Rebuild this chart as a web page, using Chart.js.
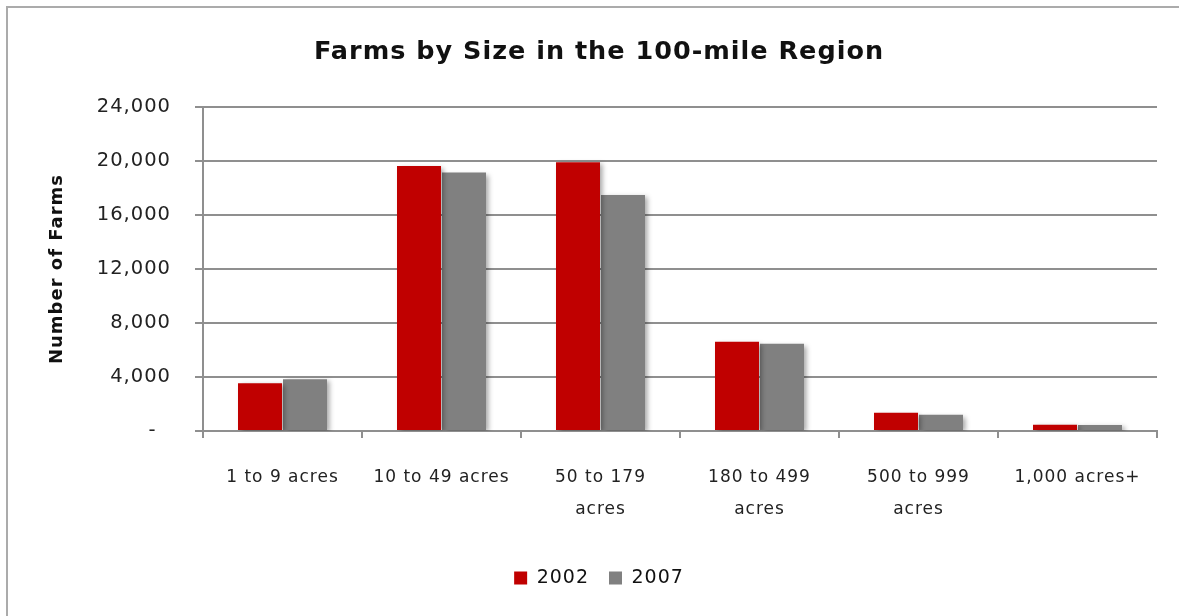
<!DOCTYPE html>
<html>
<head>
<meta charset="utf-8">
<script src="https://cdn.jsdelivr.net/npm/chart.js@4/dist/chart.umd.min.js"></script>
<style>
  html, body { margin: 0; padding: 0; background: #fff; overflow: hidden; }
  #clip {
    position: absolute; left: 0; top: 0;
    width: 1179px; height: 616px; overflow: hidden;
  }
  #frame {
    position: absolute; left: 6px; top: 6px;
    width: 1250px; height: 700px;
    border-top: 2px solid #ababab;
    border-left: 2px solid #ababab;
  }
  #wrap { position: absolute; left: 0; top: 0; width: 1179px; height: 616px; }
</style>
</head>
<body>
<div id="clip">
  <div id="frame"></div>
  <div id="wrap"><canvas id="farmChart"></canvas></div>
</div>
<script>
/* ----------------------------- */
/* DATA                          */
/* ----------------------------- */
const sizeLabels = [
  "1 to 9 acres",
  "10 to 49 acres",
  ["50 to 179", "acres"],
  ["180 to 499", "acres"],
  ["500 to 999", "acres"],
  "1,000 acres+",
];
const farms2002 = [3530, 19630, 19900, 6610, 1360, 470];
const farms2007 = [3830, 19140, 17480, 6470, 1210, 440];
const yTicks = [0, 4000, 8000, 12000, 16000, 20000, 24000];

/* ----------------------------- */
/* HELPERS                       */
/* ----------------------------- */
const formatFarms = (value) =>
  value === 0 ? "-  " : value.toLocaleString("en-US");

// wide-ish text like the excel export
const spacingPlugin = {
  id: "spacing",
  beforeLayout: (chart) => { chart.ctx.letterSpacing = "1px"; },
  beforeDraw: (chart) => { chart.ctx.letterSpacing = "1px"; },
};

// soft drop shadow behind the bars
const shadowPlugin = {
  id: "barShadow",
  beforeDatasetsDraw: (chart) => {
    const ctx = chart.ctx;
    ctx.save();
    ctx.shadowColor = "rgba(0,0,0,0.35)";
    ctx.shadowBlur = 5;
    ctx.shadowOffsetX = 3;
    ctx.shadowOffsetY = 2;
  },
  afterDatasetsDraw: (chart) => { chart.ctx.restore(); },
};

/* ----------------------------- */
/* CHART                         */
/* ----------------------------- */
const fontFamily = "'DejaVu Sans', sans-serif";

new Chart(document.getElementById("farmChart"), {
  type: "bar",
  data: {
    labels: sizeLabels,
    datasets: [
      {
        label: "2002",
        data: farms2002,
        backgroundColor: "#c00000",
        categoryPercentage: 0.566,
        barPercentage: 0.978,
      },
      {
        label: "2007",
        data: farms2007,
        backgroundColor: "#808080",
        categoryPercentage: 0.566,
        barPercentage: 0.978,
      },
    ],
  },
  plugins: [spacingPlugin, shadowPlugin],
  options: {
    responsive: true,
    maintainAspectRatio: false,
    animation: false,
    layout: { padding: { left: 41, right: 22, top: 0, bottom: 18.5 } },
    plugins: {
      title: {
        display: true,
        text: "Farms by Size in the 100-mile Region",
        color: "#111",
        font: { family: fontFamily, size: 25.5, weight: "bold", lineHeight: 1.2 },
        padding: { top: 37, bottom: 39.4 },
      },
      legend: {
        position: "bottom",
        labels: {
          color: "#111",
          font: { family: fontFamily, size: 19 },
          boxWidth: 13,
          boxHeight: 13,
          padding: 20,
        },
      },
      tooltip: { enabled: false },
    },
    scales: {
      x: {
        grid: {
          drawOnChartArea: false,
          color: "#8f8f8f",
          lineWidth: 2,
          tickLength: 7,
        },
        border: { color: "#8f8f8f", width: 2 },
        ticks: {
          color: "#222",
          maxRotation: 0,
          autoSkip: false,
          padding: 24,
          font: { family: fontFamily, size: 17, lineHeight: 1.85 },
        },
        afterFit: (scale) => { scale.height = 117.5; },
      },
      y: {
        min: 0,
        max: 24000,
        afterBuildTicks: (scale) => {
          scale.ticks = yTicks.map((v) => ({ value: v }));
        },
        grid: { color: "#8f8f8f", lineWidth: 2, tickLength: 8 },
        border: { color: "#8f8f8f", width: 2 },
        ticks: {
          color: "#222",
          padding: 24,
          font: { family: fontFamily, size: 19.5 },
          callback: (value) => formatFarms(value),
        },
        title: {
          display: true,
          text: "Number of Farms",
          color: "#111",
          font: { family: fontFamily, size: 18, weight: "bold", lineHeight: 1.2 },
          padding: { top: 6, bottom: 0 },
        },
        afterFit: (scale) => { scale.width = 162; },
      },
    },
  },
});
</script>
</body>
</html>
